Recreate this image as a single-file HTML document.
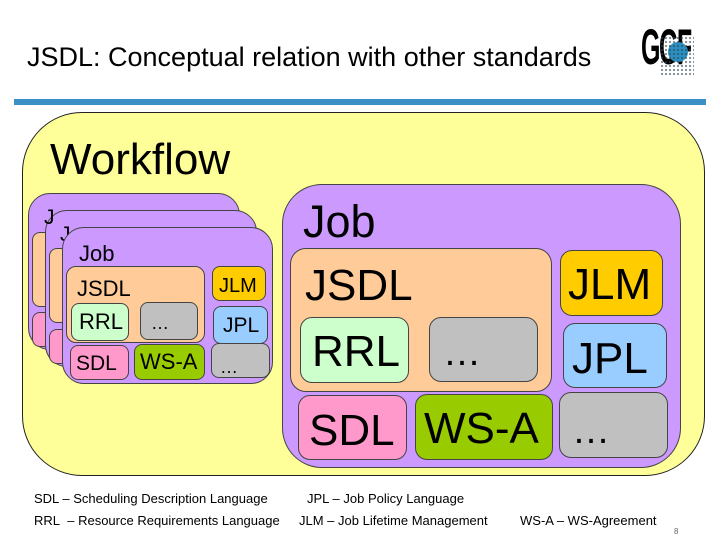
<!DOCTYPE html>
<html><head><meta charset="utf-8"><style>
body{margin:0;width:720px;height:540px;background:#fff;position:relative;overflow:hidden;font-family:"Liberation Sans",Arial,sans-serif}
.a{position:absolute;box-sizing:border-box}
.b{position:absolute;box-sizing:border-box;border:1px solid #444;}
.t{position:absolute;white-space:nowrap;color:#000;line-height:1}
.f{position:absolute;white-space:nowrap;font-size:13px;font-family:"Liberation Sans",sans-serif}
</style></head><body>
<div class="t" style="left:27px;top:44px;font-size:27px">JSDL: Conceptual relation with other standards</div>
<div class="a" style="left:14px;top:99px;width:692px;height:6px;background:#3a90c4"></div>
<!-- logo -->
<div class="t" style="left:641px;top:22px;font-size:50px;font-weight:bold;letter-spacing:-3px;transform:scaleX(0.5);transform-origin:left">GGF</div>
<div class="a" style="left:668px;top:42px;width:20px;height:20px;border-radius:50%;background:#2a8fc0"></div>
<div class="a" style="left:660px;top:36px;width:34px;height:40px;background-image:radial-gradient(#345 1px,transparent 1.3px);background-size:4px 4px;opacity:.6"></div>

<div class="b" style="left:22px;top:112px;width:683px;height:364px;background:#ffff99;border-radius:60px;border-color:#222"></div>
<div class="t" style="left:50px;top:138px;font-size:44px">Workflow</div>

<!-- back stacks -->
<div class="b" style="left:28px;top:193px;width:212px;height:157px;background:#cc99ff;border-radius:22px"></div>
<div class="b" style="left:32px;top:232px;width:20px;height:75px;background:#ffcc99;border-radius:8px"></div>
<div class="b" style="left:32px;top:312px;width:20px;height:35px;background:#ff99cc;border-radius:8px"></div>
<div class="b" style="left:45px;top:210px;width:212px;height:157px;background:#cc99ff;border-radius:22px"></div>
<div class="b" style="left:49px;top:248px;width:20px;height:75px;background:#ffcc99;border-radius:8px"></div>
<div class="b" style="left:49px;top:329px;width:20px;height:35px;background:#ff99cc;border-radius:8px"></div>
<div class="t" style="left:44px;top:207px;font-size:21px">J</div>
<div class="t" style="left:60px;top:224px;font-size:21px">J</div>
<!-- front small job -->
<div class="b" style="left:62px;top:227px;width:211px;height:157px;background:#cc99ff;border-radius:22px"></div>
<div class="t" style="left:79px;top:243px;font-size:22px">Job</div>
<div class="b" style="left:66px;top:266px;width:139px;height:77px;background:#ffcc99;border-radius:10px"></div>
<div class="t" style="left:77px;top:278px;font-size:22px">JSDL</div>
<div class="b" style="left:71px;top:303px;width:58px;height:38px;background:#ccffcc;border-radius:8px"></div>
<div class="t" style="left:79px;top:311px;font-size:22px">RRL</div>
<div class="b" style="left:140px;top:302px;width:58px;height:38px;background:#c0c0c0;border-radius:8px"></div>
<div class="t" style="left:151px;top:314px;font-size:18px">…</div>
<div class="b" style="left:212px;top:266px;width:54px;height:35px;background:#ffcc00;border-radius:8px"></div>
<div class="t" style="left:219px;top:276px;font-size:20px">JLM</div>
<div class="b" style="left:213px;top:306px;width:55px;height:38px;background:#99ccff;border-radius:8px"></div>
<div class="t" style="left:223px;top:315px;font-size:21px">JPL</div>
<div class="b" style="left:70px;top:345px;width:59px;height:35px;background:#ff99cc;border-radius:8px"></div>
<div class="t" style="left:76px;top:353px;font-size:21px">SDL</div>
<div class="b" style="left:134px;top:344px;width:71px;height:36px;background:#99cc00;border-radius:8px"></div>
<div class="t" style="left:140px;top:351px;font-size:22px">WS-A</div>
<div class="b" style="left:211px;top:343px;width:59px;height:35px;background:#c0c0c0;border-radius:8px"></div>
<div class="t" style="left:220px;top:358px;font-size:18px">…</div>

<!-- big job -->
<div class="b" style="left:282px;top:184px;width:399px;height:284px;background:#cc99ff;border-radius:40px"></div>
<div class="t" style="left:303px;top:199px;font-size:45px">Job</div>
<div class="b" style="left:290px;top:248px;width:262px;height:144px;background:#ffcc99;border-radius:16px"></div>
<div class="t" style="left:305px;top:264px;font-size:44px">JSDL</div>
<div class="b" style="left:300px;top:317px;width:109px;height:66px;background:#ccffcc;border-radius:12px"></div>
<div class="t" style="left:312px;top:330px;font-size:44px">RRL</div>
<div class="b" style="left:429px;top:317px;width:109px;height:65px;background:#c0c0c0;border-radius:12px"></div>
<div class="t" style="left:443px;top:334px;font-size:38px">…</div>
<div class="b" style="left:560px;top:250px;width:103px;height:66px;background:#ffcc00;border-radius:12px"></div>
<div class="t" style="left:568px;top:263px;font-size:44px">JLM</div>
<div class="b" style="left:563px;top:323px;width:104px;height:65px;background:#99ccff;border-radius:12px"></div>
<div class="t" style="left:572px;top:337px;font-size:44px">JPL</div>
<div class="b" style="left:298px;top:395px;width:109px;height:65px;background:#ff99cc;border-radius:12px"></div>
<div class="t" style="left:309px;top:409px;font-size:44px">SDL</div>
<div class="b" style="left:415px;top:394px;width:138px;height:66px;background:#99cc00;border-radius:12px"></div>
<div class="t" style="left:424px;top:407px;font-size:44px">WS-A</div>
<div class="b" style="left:559px;top:392px;width:109px;height:66px;background:#c0c0c0;border-radius:12px"></div>
<div class="t" style="left:572px;top:412px;font-size:38px">…</div>

<div class="f" style="left:34px;top:491px">SDL – Scheduling Description Language</div>
<div class="f" style="left:307px;top:491px">JPL – Job Policy Language</div>
<div class="f" style="left:34px;top:513px">RRL&nbsp; – Resource Requirements Language</div>
<div class="f" style="left:299px;top:513px">JLM – Job Lifetime Management</div>
<div class="f" style="left:520px;top:513px">WS-A – WS-Agreement</div>
<div class="t" style="left:674px;top:528px;font-size:8px;color:#666">8</div>
</body></html>
